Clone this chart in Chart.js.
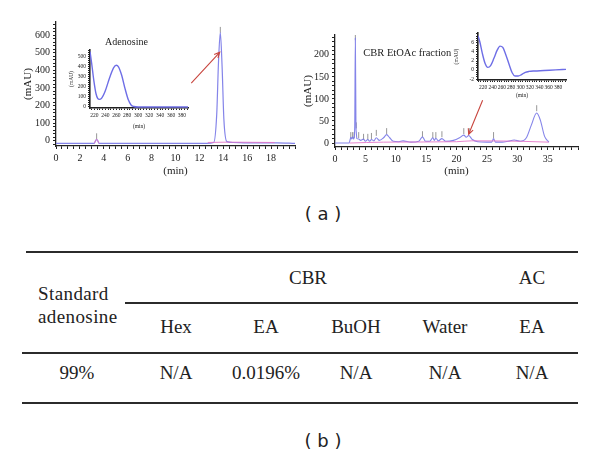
<!DOCTYPE html>
<html>
<head>
<meta charset="utf-8">
<script src="https://cdn.jsdelivr.net/npm/chart.js@4.4.1/dist/chart.umd.min.js"></script>
<style>
  html, body { margin: 0; padding: 0; background: #fff; }
  #page { position: relative; width: 600px; height: 457px; overflow: hidden; color: #222; font-family: "Liberation Serif", serif; }
  canvas { position: absolute; }
  #mainL { left: 0; top: 0; }
  #mainR { left: 300px; top: 0; }
  #insetL { left: 60px; top: 40px; }
  #insetR { left: 440px; top: 25px; }
  .rule { position: absolute; height: 2px; background: #2b2b2b; }
  .cell { position: absolute; transform: translateX(-50%); font-size: 19px; line-height: 22px; white-space: nowrap; }
  .stub { position: absolute; left: 38px; font-size: 19px; line-height: 22px; letter-spacing: 0.4px; white-space: nowrap; }
  .panel { position: absolute; transform: translateX(-50%); font-family: "DejaVu Sans", sans-serif; font-size: 18px; line-height: 22px; white-space: pre; }
</style>
</head>
<body>
<div id="page">
  <canvas id="mainL" width="300" height="185"></canvas>
  <canvas id="mainR" width="300" height="185"></canvas>
  <canvas id="insetL" width="135" height="95"></canvas>
  <canvas id="insetR" width="135" height="80"></canvas>
</div>
<script>
// --- (a) left: adenosine standard chromatogram
const leftTime   = [0, 3.2, 3.35, 3.45, 3.6, 12.6, 13.2, 13.45, 13.6, 13.75, 13.9, 14.05, 14.3, 14.8, 16, 18.5, 20];
const leftSignal = [-15, -15, 5, 5, -15, -15, -10, 150, 450, 615, 420, 120, -5, -10, -12, -12, -15];
const leftBaseTime   = [3.2, 3.4, 3.6, 3.61, 12.7, 14.4, 18.3];
const leftBaseSignal = [-15, 8, -15, null, -10, -8, -10];
const leftMarkTime   = [3.4, 13.75];
const leftMarkSignal = [25, 630];

// --- (a) left inset: UV spectrum of adenosine
const uvWave = [212, 215, 219, 223, 226, 229, 233, 240, 248, 255, 260, 264, 270, 276, 282, 287, 292, 300, 392];
const uvAbs  = [545, 430, 260, 130, 85, 75, 85, 160, 290, 385, 410, 395, 310, 180, 70, 20, 5, 0, 0];

// --- (a) right: CBR EtOAc fraction chromatogram
const rightTime = [0, 2.3, 2.5, 2.6, 2.75, 2.9, 3.05, 3.15, 3.25, 3.35, 3.45, 3.5, 3.6, 3.9, 4.2, 4.7, 5.0, 5.4, 5.7, 6.0, 6.4, 6.8, 7.3, 8.0, 8.5, 9.0, 9.6, 10.5, 11.2, 12.5, 13.8, 14.4, 14.9, 15.6, 16.1, 16.35, 16.6, 17.0, 17.6, 18.2, 19.5, 20.5, 21.2, 21.6, 22.0, 22.6, 23.5, 25.0, 25.8, 26.1, 26.4, 27.5, 28.5, 29.5, 30.5, 31.5, 32.3, 33.2, 33.8, 34.5, 35.2];
const rightSignal = [0, 0, 8, 13, 9, 14, 9, 13, 40, 238, 40, 25, 10, 9, 6, 9, 4, 8, 4, 8, 5, 12, 6, 12, 19, 12, 4, 3, 5, 2, 4, 14, 4, 4, 12, 6, 11, 5, 10, 4, 6, 12, 18, 13, 17, 8, 3, 2, 2, 10, 2, 2, 4, 7, 4, 12, 40, 68, 52, 15, 2];
const rightBaseTime   = [2.4, 8, 20, 22.5, 30.5, 35.2];
const rightBaseSignal = [0, 2, 3, 5, 4, 2];
const rightMarkTime   = [2.6, 2.9, 3.15, 3.35, 3.5, 3.9, 4.7, 5.4, 6.0, 6.8, 8.5, 14.4, 16.1, 16.6, 17.6, 21.2, 22.1, 26.1, 33.2];
const rightMarkSignal = [18, 18, 18, 240, 40, 18, 14, 14, 16, 23, 27, 20, 18, 18, 20, 27, 27, 18, 79];

// --- (a) right inset: UV spectrum at the arrowed peak
const peakWave = [209, 213, 218, 224, 230, 236, 243, 250, 256, 262, 268, 275, 282, 288, 295, 302, 310, 318, 330, 350, 375, 397];
const peakAbs  = [7.6, 6.2, 3.8, 1.5, 0.6, 1.0, 2.6, 4.4, 5.3, 5.0, 3.5, 1.4, -0.6, -1.3, -1.3, -1.0, -0.5, -0.3, -0.2, -0.1, 0.05, 0.15];

// --- (b) table
const groupHeads = ['CBR', 'AC'];
const stubHead = ['Standard', 'adenosine'];
const subHeads = ['Hex', 'EA', 'BuOH', 'Water', 'EA'];
const rowValues = ['99%', 'N/A', '0.0196%', 'N/A', 'N/A', 'N/A'];

const SERIF = '"Liberation Serif", serif';
const INK = '#222';
const TRACE = 'rgba(125,125,232,0.95)';
const BASE = 'rgba(228,120,200,0.9)';

const pts = (xs, ys) => xs.map((x, i) => ({ x: x, y: ys[i] }));

const notesPlugin = {
  id: 'notes',
  afterDatasetsDraw(chart, args, opts) {
    const { ctx, scales: { x, y } } = chart;
    ctx.save();
    (opts.texts || []).forEach(t => {
      ctx.font = t.size + 'px ' + SERIF;
      ctx.fillStyle = INK;
      ctx.textAlign = 'center';
      ctx.textBaseline = 'middle';
      ctx.fillText(t.text, x.getPixelForValue(t.x), y.getPixelForValue(t.y));
    });
    (opts.arrows || []).forEach(a => {
      const x0 = x.getPixelForValue(a.from[0]), y0 = y.getPixelForValue(a.from[1]);
      const x1 = x.getPixelForValue(a.to[0]), y1 = y.getPixelForValue(a.to[1]);
      const ang = Math.atan2(y1 - y0, x1 - x0);
      ctx.strokeStyle = '#c8463f';
      ctx.lineWidth = 1.1;
      ctx.beginPath();
      ctx.moveTo(x0, y0);
      ctx.lineTo(x1, y1);
      ctx.moveTo(x1 - 6 * Math.cos(ang - 0.45), y1 - 6 * Math.sin(ang - 0.45));
      ctx.lineTo(x1, y1);
      ctx.lineTo(x1 - 6 * Math.cos(ang + 0.45), y1 - 6 * Math.sin(ang + 0.45));
      ctx.stroke();
    });
    ctx.restore();
  }
};

function axes(o) {
  return {
    x: {
      type: 'linear', min: o.xMin, max: o.xMax,
      afterFit: s => { s.height = o.xH; },
      border: { display: true, color: INK, width: o.bw },
      grid: { drawOnChartArea: false, drawTicks: true, tickLength: o.tl, color: INK },
      ticks: { stepSize: o.xStep, autoSkip: false, maxRotation: 0, includeBounds: false, padding: o.tp, color: INK, font: { family: SERIF, size: o.fs }, callback: o.xLabel },
      title: { display: true, text: '(min)', color: INK, font: { family: SERIF, size: o.ts }, padding: { top: 0, bottom: o.xtPad } }
    },
    y: {
      type: 'linear', min: o.yMin, max: o.yMax,
      afterFit: s => { s.width = o.yW; },
      border: { display: true, color: INK, width: o.bw },
      grid: { drawOnChartArea: false, drawTicks: true, tickLength: o.tl, color: INK },
      ticks: { stepSize: o.yStep, autoSkip: false, includeBounds: false, padding: o.tp, color: INK, font: { family: SERIF, size: o.fs }, callback: o.yLabel },
      title: { display: true, text: '(mAU)', color: INK, font: { family: SERIF, size: o.ts }, padding: { top: o.ytPad, bottom: 0 } }
    }
  };
}

function trace(data, color, width) {
  return { data: data, borderColor: color, borderWidth: width, pointRadius: 0, cubicInterpolationMode: 'monotone', spanGaps: false, fill: false };
}
function marks(data) {
  return { data: data, showLine: false, pointStyle: 'line', rotation: 90, pointRadius: 3, borderWidth: 1, borderColor: 'rgba(140,140,140,0.9)' };
}

function build(id, datasets, pad, scales, notes) {
  return new Chart(document.getElementById(id), {
    type: 'line',
    data: { datasets: datasets },
    plugins: [notesPlugin],
    options: {
      responsive: false, animation: false,
      layout: { padding: pad },
      plugins: { legend: { display: false }, tooltip: { enabled: false }, notes: notes || {} },
      scales: scales
    }
  });
}

build('mainL', [
  trace(pts(leftBaseTime, leftBaseSignal), BASE, 1),
  trace(pts(leftTime, leftSignal), TRACE, 1.2),
  marks(pts(leftMarkTime, leftMarkSignal))
], { top: 22, right: 1, left: 0, bottom: 0 }, axes({
  xMin: 0, xMax: 20, xStep: 0.5, xH: 39, xLabel: v => (v % 2 === 0 && v <= 18) ? v : '',
  yMin: -30, yMax: 675, yStep: 20, yW: 56, yLabel: v => (v % 100 === 0 && v >= 0 && v <= 600) ? v : '',
  bw: 1.3, tl: 3, tp: 3, fs: 10, ts: 11, xtPad: 7, ytPad: 22
}), {
  texts: [{ text: 'Adenosine', x: 5.9, y: 560, size: 10 }],
  arrows: [{ from: [11.32, 328], to: [13.7, 503] }]
});

build('mainR', [
  trace(pts(rightBaseTime, rightBaseSignal), BASE, 1),
  trace(pts(rightTime, rightSignal), TRACE, 1.1),
  marks(pts(rightMarkTime, rightMarkSignal))
], { top: 35, right: 22, left: 0, bottom: 0 }, axes({
  xMin: 0, xMax: 40, xStep: 1, xH: 38, xLabel: v => (v % 5 === 0 && v <= 35) ? v : '',
  yMin: -9, yMax: 245, yStep: 10, yW: 35, yLabel: v => (v % 50 === 0 && v >= 0 && v <= 200) ? v : '',
  bw: 1.3, tl: 3, tp: 3, fs: 10, ts: 11, xtPad: 7, ytPad: 2
}), {
  texts: [{ text: 'CBR EtOAc fraction', x: 11.9, y: 204, size: 10.5 }],
  arrows: [{ from: [24.3, 97], to: [22.0, 20] }]
});

build('insetL', [
  trace(pts(uvWave, uvAbs), 'rgba(110,110,230,1)', 1.4)
], { top: 10, right: 7, left: 0, bottom: 0 }, axes({
  xMin: 212, xMax: 391, xStep: 5, xH: 27, xLabel: v => (v % 20 === 0 && v >= 220 && v <= 380) ? v : '',
  yMin: -10, yMax: 560, yStep: 20, yW: 30, yLabel: v => (v % 100 === 0 && v >= 0 && v <= 500) ? v : '',
  bw: 1.6, tl: 2, tp: 2, fs: 5.5, ts: 5.5, xtPad: 5, ytPad: 8
}));

build('insetR', [
  trace(pts(peakWave, peakAbs), 'rgba(110,110,230,1)', 1.4)
], { top: 8, right: 9, left: 0, bottom: 0 }, axes({
  xMin: 209, xMax: 397, xStep: 5, xH: 25, xLabel: v => (v % 20 === 0 && v >= 220 && v <= 380) ? v : '',
  yMin: -2.2, yMax: 8.2, yStep: 0.5, yW: 38, yLabel: v => (Math.abs(v % 2) < 1e-6 && v <= 6) ? v : '',
  bw: 1.6, tl: 2, tp: 2, fs: 5.5, ts: 5.5, xtPad: 6, ytPad: 13
}));

// --- panel labels and table (b)
const page = document.getElementById('page');
function add(cls, text, x, yc) {
  const d = document.createElement('div');
  d.className = cls;
  d.textContent = text;
  if (x !== null) d.style.left = x + 'px';
  d.style.top = (yc - 11) + 'px';
  page.appendChild(d);
}
function rule(x0, x1, y) {
  const d = document.createElement('div');
  d.className = 'rule';
  d.style.left = x0 + 'px';
  d.style.width = (x1 - x0) + 'px';
  d.style.top = (y - 1) + 'px';
  page.appendChild(d);
}

add('panel', '( a )', 323, 214);
add('panel', '( b )', 323, 441);

const groupX = [308, 532];
const colX = [77, 176, 266, 356, 445, 532];
rule(26, 578, 252);
rule(125, 578, 303);
rule(22, 578, 353);
rule(22, 578, 403);
groupHeads.forEach((t, i) => add('cell', t, groupX[i], 278));
add('stub', stubHead[0], null, 294);
add('stub', stubHead[1], null, 317);
subHeads.forEach((t, i) => add('cell', t, colX[i + 1], 327));
rowValues.forEach((t, i) => add('cell', t, colX[i], 373));
</script>
</body>
</html>
